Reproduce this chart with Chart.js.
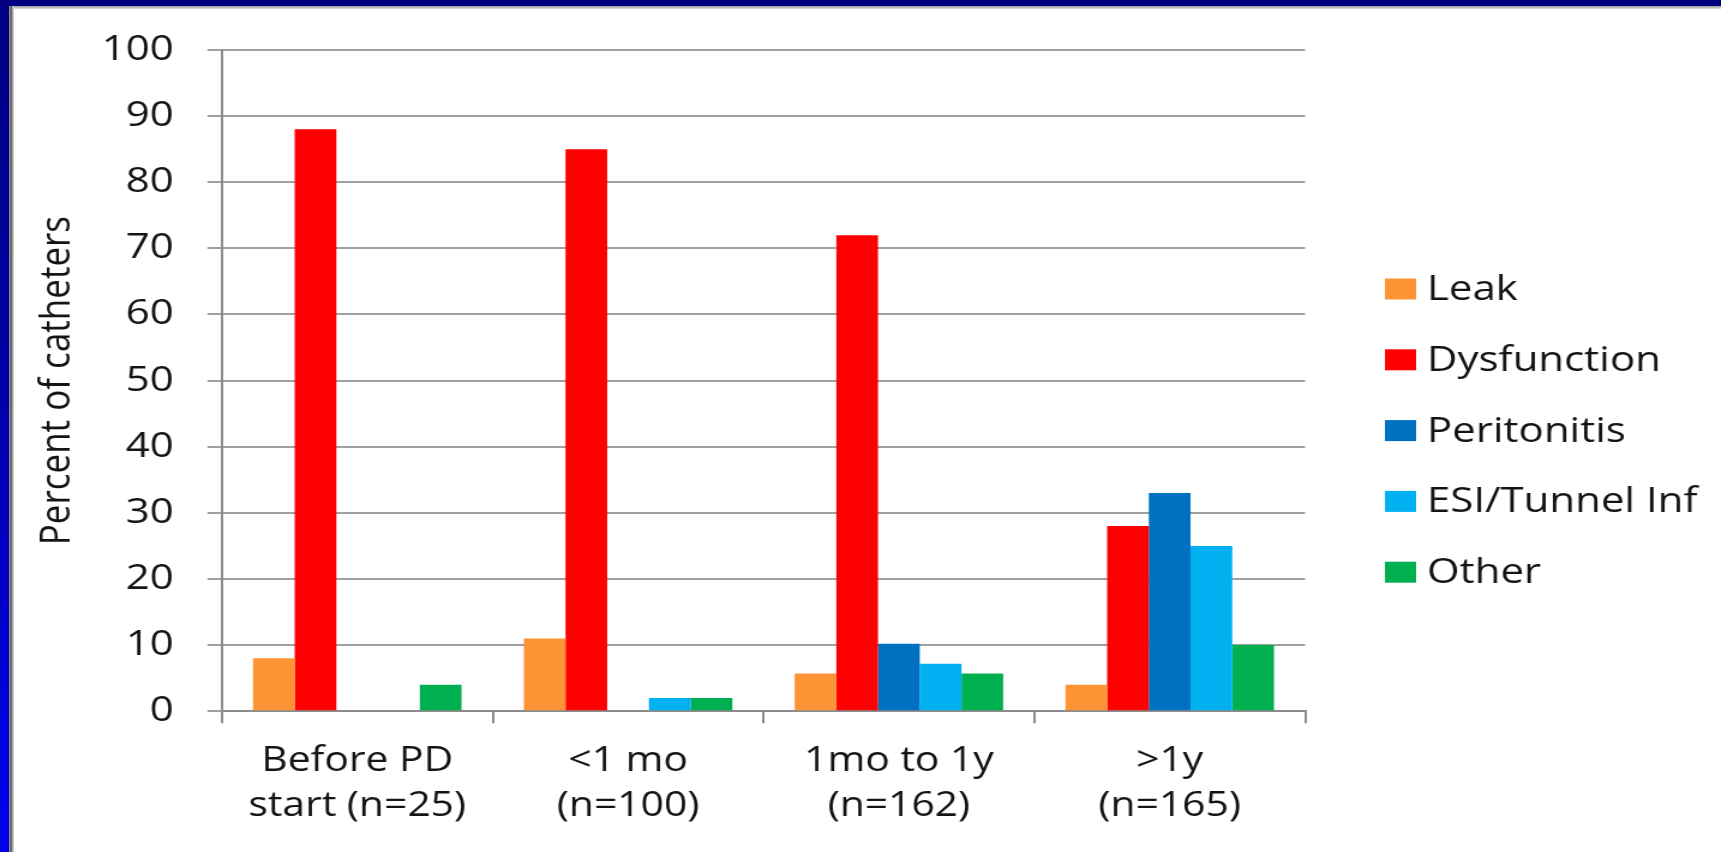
<!DOCTYPE html>
<html>
<head>
<meta charset="utf-8">
<title>Catheter removal causes</title>
<script src="https://cdn.jsdelivr.net/npm/chart.js@4.4.1/dist/chart.umd.min.js"></script>
<style>
  html, body { margin: 0; padding: 0; background: #fff; overflow: hidden; }
  .slide { position: relative; width: 1721px; height: 852px; background: #fff; }
  /* chart is laid out narrow and widened, like the slide it came from */
  .stretch { position: absolute; left: 0; top: 0; width: 1434px; height: 852px; transform: scaleX(1.2001); transform-origin: 0 0; }
  .band-top { position: absolute; left: 0; top: 0; width: 1721px; height: 6px; background: #000080; }
  .band-left { position: absolute; left: 0; top: 0; width: 9px; height: 852px; background: linear-gradient(#000080, #0000a8 45%, #0000f0); }
  .edge-top { position: absolute; left: 9px; top: 6px; right: 0; height: 3px; background: linear-gradient(#9a9a9a, #e4e4e4); }
  .edge-left { position: absolute; left: 9px; top: 6px; width: 5px; bottom: 0; background: linear-gradient(90deg, #9c9c9c, #5a5a5a 40%, #a8a8a8 75%, #ececec); }
</style>
</head>
<body>
<div class="slide">
  <div class="stretch"><canvas id="myChart"></canvas></div>
  <div class="band-top"></div>
  <div class="band-left"></div>
  <div class="edge-top"></div>
  <div class="edge-left"></div>
</div>
<script>
const categories = [
    ['Before PD', 'start (n=25)'],
    ['<1 mo', '(n=100)'],
    ['1mo to 1y', '(n=162)'],
    ['>1y', '(n=165)']
];
const leak = [8, 11, 5.7, 4];
const dysfunction = [88, 85, 72, 28];
const peritonitis = [0, 0, 10.2, 33];
const esiTunnel = [0, 2, 7.2, 25];
const other = [4, 2, 5.7, 10];
const yTicks = [0, 10, 20, 30, 40, 50, 60, 70, 80, 90, 100];

const seriesNames = ['Leak', 'Dysfunction', 'Peritonitis', 'ESI/Tunnel Inf', 'Other'];
const seriesColors = ['#FF9436', '#FF0000', '#0070C0', '#00B0F0', '#00B050'];
const seriesValues = [leak, dysfunction, peritonitis, esiTunnel, other];

Chart.defaults.font.family = "'Open Sans', sans-serif";
Chart.defaults.font.weight = '500';
Chart.defaults.color = '#141414';

// legend drawn as a column to the right of the plot
const sideLegend = {
    id: 'sideLegend',
    afterDraw(chart, args, opts) {
        const c = chart.ctx;
        c.save();
        c.font = opts.font;
        c.textBaseline = 'middle';
        chart.data.datasets.forEach((ds, i) => {
            const y = opts.top + i * opts.spacing;
            c.fillStyle = ds.backgroundColor;
            c.fillRect(opts.x, y - opts.boxHeight / 2, opts.boxWidth, opts.boxHeight);
            c.fillStyle = opts.color;
            c.fillText(ds.label, opts.x + opts.boxWidth + opts.gap, y + 1);
        });
        c.restore();
    }
};

const ctx = document.getElementById('myChart');

new Chart(ctx, {
    type: 'bar',
    data: {
        labels: categories,
        datasets: seriesNames.map((name, i) => ({
            label: name,
            data: seriesValues[i],
            backgroundColor: seriesColors[i],
            borderWidth: 0,
            categoryPercentage: 0.77,
            barPercentage: 1.0
        }))
    },
    options: {
        responsive: true,
        maintainAspectRatio: false,
        animation: false,
        layout: {
            padding: { left: 7.3, top: 50, right: 346.5, bottom: 8 }
        },
        plugins: {
            legend: { display: false },
            tooltip: { enabled: false },
            sideLegend: {
                x: 1154,
                top: 289,
                spacing: 70.8,
                boxWidth: 26,
                boxHeight: 21,
                gap: 9,
                font: "500 35px 'Open Sans', sans-serif",
                color: '#141414'
            }
        },
        scales: {
            x: {
                grid: {
                    drawOnChartArea: false,
                    tickLength: 12,
                    color: '#8c8c8c',
                    lineWidth: 2
                },
                border: { color: '#8c8c8c', width: 2 },
                ticks: {
                    font: { size: 34, lineHeight: 1.32 },
                    padding: 15.5,
                    maxRotation: 0,
                    autoSkip: false
                }
            },
            y: {
                min: 0,
                max: 100,
                afterBuildTicks: scale => {
                    scale.ticks = yTicks.map(v => ({ value: v }));
                },
                grid: {
                    tickLength: 12,
                    color: '#a0a0a0',
                    lineWidth: 2
                },
                border: { color: '#8c8c8c', width: 2 },
                ticks: {
                    font: { size: 35 },
                    padding: 28
                },
                title: {
                    display: true,
                    text: 'Percent of catheters',
                    font: { size: 35, lineHeight: 1.0 },
                    padding: { top: 23, bottom: -8.5 },
                    color: '#141414'
                }
            }
        }
    },
    plugins: [sideLegend]
});
</script>
</body>
</html>
